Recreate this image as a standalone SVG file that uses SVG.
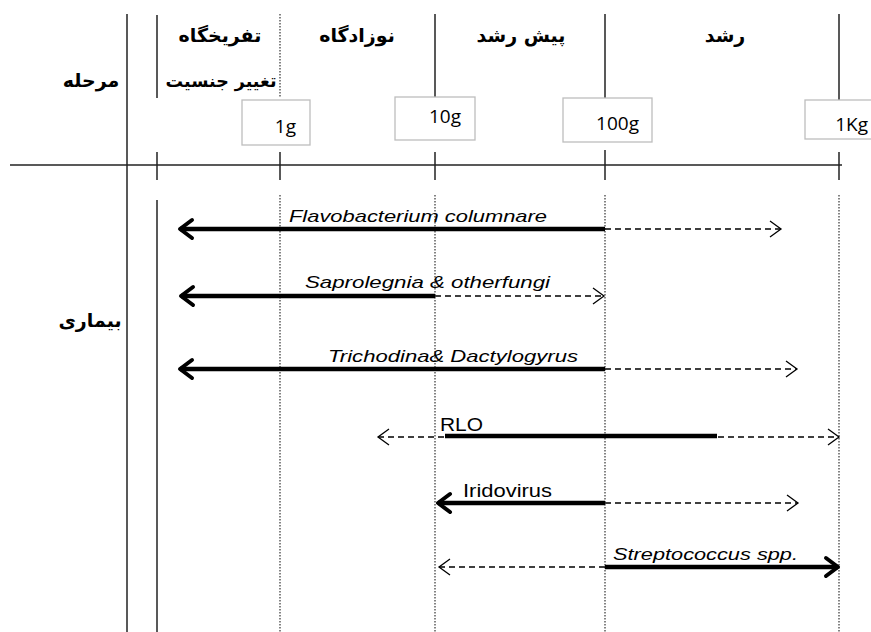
<svg xmlns="http://www.w3.org/2000/svg" width="871" height="632" viewBox="0 0 871 632">
<style>
.fa{font-family:"DejaVu Sans","Noto Sans",sans-serif;font-weight:bold;font-size:19px;fill:#000;text-anchor:middle;direction:rtl}
.ax{stroke:#222;stroke-width:1.5;fill:none}
.dot{stroke:#333;stroke-width:1.2;stroke-dasharray:1.5 1.5;fill:none}
.box{fill:#fff;stroke:#bdbdbd;stroke-width:1.3}
.wt{font-family:"Open Sans","Liberation Sans",sans-serif;font-size:19px;fill:#000}
.lb{font-family:"Liberation Sans",Arial,sans-serif;font-size:17px;fill:#000}
.up{font-size:19px}
.it{font-style:italic}
.thick{stroke:#000;stroke-width:4.5;fill:none}
.dash{stroke:#000;stroke-width:1.3;stroke-dasharray:6 4;fill:none}
</style>
<defs>
<marker id="hT" viewBox="-16 -12 20 24" refX="0" refY="0" markerWidth="20" markerHeight="24" markerUnits="userSpaceOnUse" orient="auto" overflow="visible">
<path d="M-12,-9 L0,0 L-12,9" fill="none" stroke="#000" stroke-width="4" stroke-linecap="round" stroke-linejoin="round"/>
</marker>
<marker id="hN" viewBox="-14 -10 16 20" refX="0" refY="0" markerWidth="16" markerHeight="20" markerUnits="userSpaceOnUse" orient="auto-start-reverse" overflow="visible">
<path d="M-11,-8 L0,0 L-11,8" fill="none" stroke="#000" stroke-width="1.3"/>
</marker>
</defs>
<rect width="871" height="632" fill="#fff"/>
<g id="grid">
<line class="ax" x1="127" y1="14" x2="127" y2="632"/>
<line class="ax" x1="157" y1="15" x2="157" y2="98"/>
<line class="dot" x1="280" y1="14" x2="280" y2="97"/>
<line class="ax" x1="435" y1="14" x2="435" y2="97"/>
<line class="ax" x1="605" y1="14" x2="605" y2="98"/>
<line class="ax" x1="839" y1="14" x2="839" y2="100"/>
<line class="ax" x1="10" y1="165" x2="842" y2="165"/>
<line class="ax" x1="157" y1="152" x2="157" y2="180"/>
<line class="ax" x1="280" y1="152" x2="280" y2="180"/>
<line class="ax" x1="435" y1="152" x2="435" y2="180"/>
<line class="ax" x1="605" y1="150" x2="605" y2="180"/>
<line class="ax" x1="839" y1="152" x2="839" y2="180"/>
<line class="ax" x1="157" y1="200" x2="157" y2="632"/>
<line class="dot" x1="280" y1="195" x2="280" y2="632"/>
<line class="dot" x1="435" y1="195" x2="435" y2="632"/>
<line class="dot" x1="605" y1="195" x2="605" y2="632"/>
<line class="dot" x1="839" y1="195" x2="839" y2="632"/>
</g>
<g id="header-labels">
<text class="fa" x="91" y="87">مرحله</text>
<text class="fa" x="220" y="42">تفریخگاه</text>
<text class="fa" x="221" y="87" font-size="17.5" style="font-size:17.5px">تغییر جنسیت</text>
<text class="fa" x="357" y="42">نوزادگاه</text>
<text class="fa" x="521" y="42">پیش رشد</text>
<text class="fa" x="725" y="42">رشد</text>
<text class="fa" x="90" y="327">بیماری</text>
</g>
<g id="w1g"><rect class="box" x="242" y="100" width="68" height="45"/><text class="wt" x="296" y="133" text-anchor="end">1g</text></g>
<g id="w10g"><rect class="box" x="395" y="97" width="80" height="43"/><text class="wt" x="461" y="123" text-anchor="end">10g</text></g>
<g id="w100g"><rect class="box" x="563" y="98" width="89" height="44"/><text class="wt" x="639" y="130" text-anchor="end">100g</text></g>
<g id="w1kg"><rect class="box" x="805" y="100" width="70" height="39"/><text class="wt" x="868" y="131" text-anchor="end">1Kg</text></g>
<g id="connectors">
<line class="dash" x1="605" y1="229" x2="781" y2="229" marker-end="url(#hN)"/>
<line class="thick" x1="605" y1="229" x2="180" y2="229" marker-end="url(#hT)"/>
<line class="dash" x1="435" y1="296" x2="604" y2="296" marker-end="url(#hN)"/>
<line class="thick" x1="435" y1="296" x2="181" y2="296" marker-end="url(#hT)"/>
<line class="dash" x1="605" y1="369" x2="797" y2="369" marker-end="url(#hN)"/>
<line class="thick" x1="605" y1="369" x2="180" y2="369" marker-end="url(#hT)"/>
<line class="dash" x1="378" y1="437" x2="839" y2="437" marker-start="url(#hN)" marker-end="url(#hN)"/>
<line class="thick" x1="445" y1="436" x2="717" y2="436"/>
<line class="dash" x1="605" y1="503" x2="798" y2="503" marker-end="url(#hN)"/>
<line class="thick" x1="605" y1="503" x2="438" y2="503" marker-end="url(#hT)"/>
<line class="dash" x1="605" y1="567" x2="439" y2="567" marker-end="url(#hN)"/>
<line class="thick" x1="605" y1="567" x2="838" y2="567" marker-end="url(#hT)"/>
</g>
<g id="disease-labels">
<text class="lb it" x="289" y="222" textLength="258" lengthAdjust="spacingAndGlyphs">Flavobacterium columnare</text>
<text class="lb it" x="305" y="288" textLength="245" lengthAdjust="spacingAndGlyphs">Saprolegnia &amp; otherfungi</text>
<text class="lb it" x="328" y="362" textLength="250" lengthAdjust="spacingAndGlyphs">Trichodina&amp; Dactylogyrus</text>
<text class="lb up" x="440" y="431" textLength="43" lengthAdjust="spacingAndGlyphs">RLO</text>
<text class="lb up" x="463" y="497" textLength="89" lengthAdjust="spacingAndGlyphs">Iridovirus</text>
<text class="lb it" x="613" y="560" textLength="185" lengthAdjust="spacingAndGlyphs">Streptococcus spp.</text>
</g>
</svg>
